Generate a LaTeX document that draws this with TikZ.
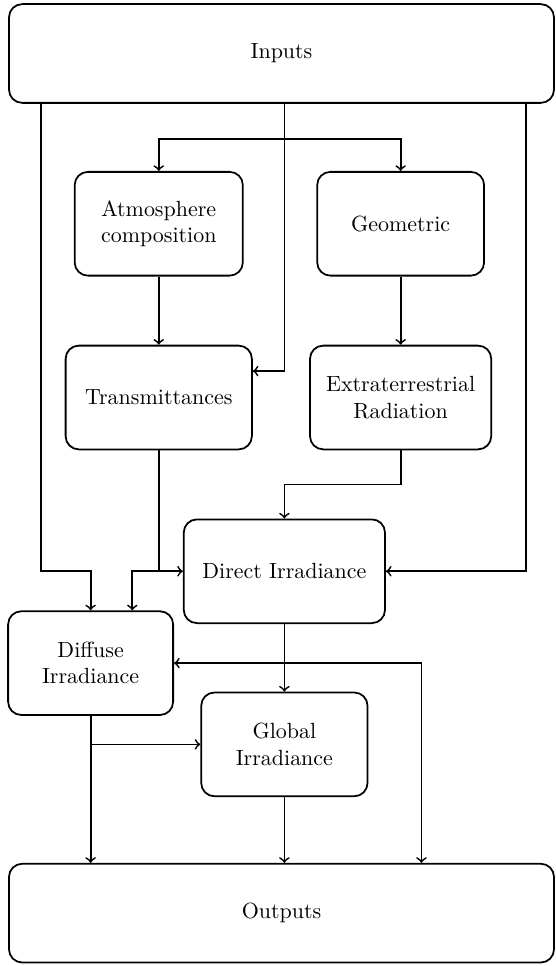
\documentclass[tikz,border=0pt]{standalone}
\usetikzlibrary{calc}

\begin{document}
\begin{tikzpicture}[
  box/.style={draw, thick, rounded corners=6pt, minimum height=1.66cm,
    align=center, inner sep=3pt},
  endbox/.style={box, minimum width=8.72cm, minimum height=1.58cm},
  flow/.style={->, thick}
]
  \useasboundingbox (0,0) rectangle (8.88,-15.456);

  \node[endbox] (in) at (4.504,-0.856) {Inputs};
  \node[box, minimum width=2.69cm] (atm) at (2.54,-3.58) {Atmosphere\\composition};
  \node[box, minimum width=2.67cm] (geo) at (6.41,-3.58) {Geometric};
  \node[box, minimum width=2.98cm] (trans) at (2.54,-6.36) {Transmittances};
  \node[box, minimum width=2.90cm] (ext) at (6.41,-6.36) {Extraterrestrial\\Radiation};
  \node[box, minimum width=3.22cm] (dir) at (4.55,-9.14) {Direct Irradiance};
  \node[box, minimum width=2.64cm] (dif) at (1.45,-10.61) {Diffuse\\Irradiance};
  \node[box, minimum width=2.66cm] (glo) at (4.55,-11.91) {Global\\Irradiance};
  \node[endbox] (out) at (4.504,-14.61) {Outputs};

  % taps on the inputs and outputs boxes
  \coordinate (inL) at ($(in.south west)!0.06!(in.south east)$);
  \coordinate (inR) at ($(in.south west)!0.947!(in.south east)$);
  \coordinate (inC) at (in.south -| dir.north);
  \coordinate (fork) at ($(inC)+(0,-0.56)$);
  \coordinate (difR) at ($(dif.north west)!0.75!(dif.north east)$);
  \coordinate (outR) at ($(out.north west)!0.756!(out.north east)$);

  \draw[thick] (inC) -- (fork);
  \draw[flow] (fork) -| (atm.north);
  \draw[flow] (fork) -| (geo.north);
  \draw[flow] (fork) |- ($(trans.north east)!0.25!(trans.south east)$);

  \draw[flow] (atm) -- (trans);
  \draw[flow] (geo) -- (ext);
  \draw[flow] (ext.south) |- ($(ext.south)!.5!(dir.north)$) -| (dir.north);

  \draw[flow] (trans.south) |- (dir.west);
  \draw[flow] (trans.south |- dir.west) -| (difR);
  \draw[flow] (inL) |- (dif.north |- dir.west) -- (dif.north);
  \draw[flow] (inR) |- (dir.east);

  \draw[flow] (dir) -- (glo);
  \draw[flow] (dir.south |- dif.east) -- (dif.east);
  \draw[flow] (dir.south |- dif.east) -| (outR);

  \draw[flow] (dif.south) -- (dif.south |- out.north);
  \draw[flow] (dif.south |- glo.west) -- (glo.west);
  \draw[flow] (glo.south) -- (glo.south |- out.north);
\end{tikzpicture}
\end{document}
